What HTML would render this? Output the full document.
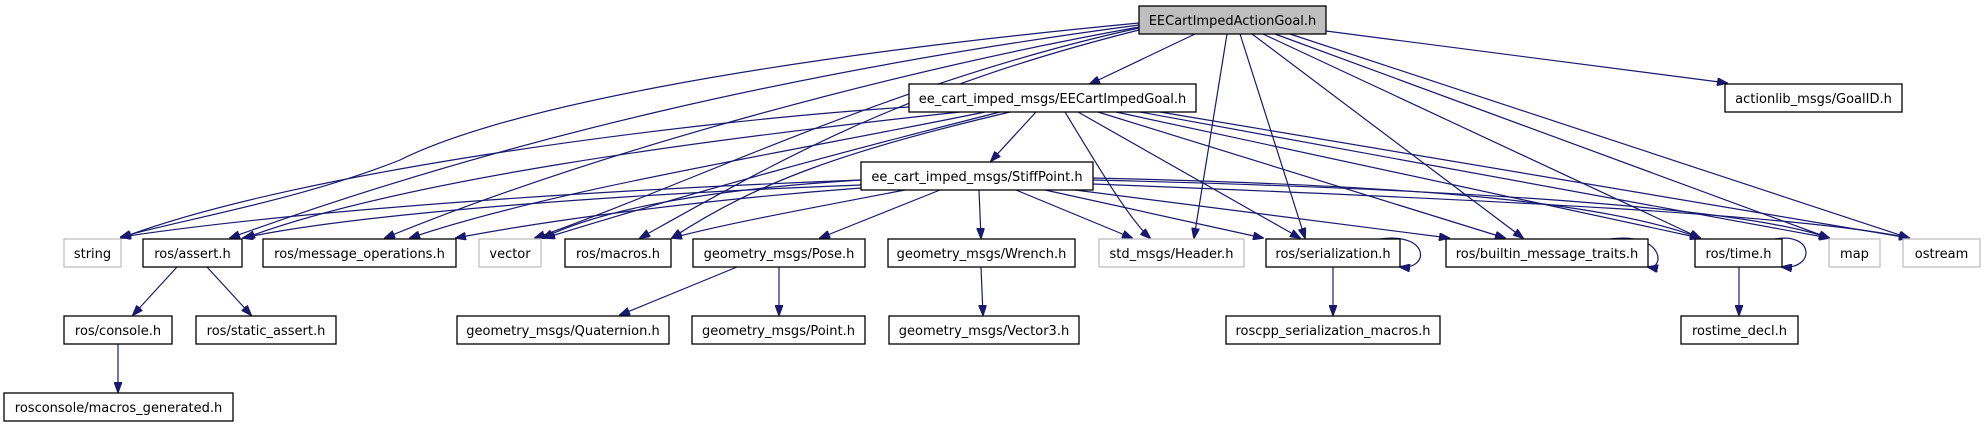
<!DOCTYPE html>
<html><head><meta charset="utf-8"><style>
html,body{margin:0;padding:0;background:#fff;}
svg{display:block;}
text{font-family:"DejaVu Sans","Liberation Sans",sans-serif;font-size:13px;fill:#000;}
.e{fill:none;stroke:#191970;stroke-width:1.2;marker-end:url(#ah);}
.n{fill:#fff;stroke:#000;stroke-width:1.3;}
.g{fill:#fff;stroke:#bfbfbf;stroke-width:1.3;}
</style></head><body>
<svg width="1984" height="427" viewBox="0 0 1984 427" xmlns="http://www.w3.org/2000/svg">
<defs><marker id="ah" markerUnits="userSpaceOnUse" markerWidth="11" markerHeight="8" refX="10" refY="4" orient="auto"><path d="M0,0 L11,4 L0,8 z" fill="#191970" stroke="#191970"/></marker></defs>

<!-- edges from A -->
<path class="e" d="M1195,34 L1090,84"/>
<path class="e" d="M1139,23 C750,60 500,110 400,160 C300,200 180,220 121,237"/>
<path class="e" d="M1139,25 C800,70 500,140 230,238"/>
<path class="e" d="M1139,27 C900,70 600,150 385,238"/>
<path class="e" d="M1139,28 C900,80 700,180 535,238"/>
<path class="e" d="M1139,30 C900,90 780,160 640,238"/>
<path class="e" d="M1227,34 L1194,238"/>
<path class="e" d="M1240,34 L1305,238"/>
<path class="e" d="M1252,34 L1523,238"/>
<path class="e" d="M1263,34 L1700,238"/>
<path class="e" d="M1275,34 L1829,238"/>
<path class="e" d="M1290,34 L1909,238"/>
<path class="e" d="M1326,31 L1727,83"/>

<!-- edges from G -->
<path class="e" d="M1036,112 L991,161"/>
<path class="e" d="M909,107 C700,120 300,170 121,238"/>
<path class="e" d="M960,112 C700,140 400,180 245,238"/>
<path class="e" d="M985,112 C800,150 550,190 410,238"/>
<path class="e" d="M1000,112 C850,150 700,190 545,238"/>
<path class="e" d="M1010,112 C850,150 760,180 672,238"/>
<path class="e" d="M1065,112 C1100,170 1130,220 1150,238"/>
<path class="e" d="M1078,112 L1300,238"/>
<path class="e" d="M1098,112 L1505,238"/>
<path class="e" d="M1116,112 L1700,238"/>
<path class="e" d="M1140,112 L1829,238"/>
<path class="e" d="M1160,112 L1909,238"/>

<!-- edges from S -->
<path class="e" d="M861,180 C600,190 300,210 121,237"/>
<path class="e" d="M861,185 C600,195 350,215 243,238"/>
<path class="e" d="M861,188 C700,200 550,220 456,238"/>
<path class="e" d="M861,180 C700,190 600,210 543,238"/>
<path class="e" d="M905,190 C800,210 720,225 672,238"/>
<path class="e" d="M940,190 L820,238"/>
<path class="e" d="M979,190 L981,238"/>
<path class="e" d="M1016,190 L1132,238"/>
<path class="e" d="M1045,190 L1263,238"/>
<path class="e" d="M1075,190 L1449,238"/>
<path class="e" d="M1093,178 C1400,185 1600,200 1700,238"/>
<path class="e" d="M1093,180 C1500,190 1750,210 1829,238"/>
<path class="e" d="M1093,184 C1500,200 1800,215 1909,238"/>

<!-- self loops -->
<path class="e" d="M1380,239 C1430,232 1430,270 1400,267"/>
<path class="e" d="M1610,239 C1665,232 1665,270 1648,267"/>
<path class="e" d="M1775,239 C1815,232 1815,270 1782,267"/>

<!-- lower edges -->
<path class="e" d="M177,267 L133,315"/>
<path class="e" d="M207,267 L251,315"/>
<path class="e" d="M118,344 L118,392"/>
<path class="e" d="M737,267 L620,315"/>
<path class="e" d="M779,267 L779,315"/>
<path class="e" d="M981,267 L983,315"/>
<path class="e" d="M1333,267 L1333,315"/>
<path class="e" d="M1739,267 L1739,315"/>

<!-- nodes -->
<rect x="1139" y="6" width="187" height="28" fill="#bfbfbf" stroke="#000" stroke-width="1.3"/>
<text x="1232.5" y="25" text-anchor="middle">EECartImpedActionGoal.h</text>

<rect class="n" x="909" y="84" width="287" height="28"/><text x="1052.5" y="103" text-anchor="middle">ee_cart_imped_msgs/EECartImpedGoal.h</text>
<rect class="n" x="1725" y="84" width="177" height="28"/><text x="1813.5" y="103" text-anchor="middle">actionlib_msgs/GoalID.h</text>

<rect class="n" x="861" y="162" width="232" height="28"/><text x="977" y="181" text-anchor="middle">ee_cart_imped_msgs/StiffPoint.h</text>

<rect class="g" x="64" y="239" width="57" height="28"/><text x="92.5" y="258" text-anchor="middle">string</text>
<rect class="n" x="143" y="239" width="99" height="28"/><text x="192.5" y="258" text-anchor="middle">ros/assert.h</text>
<rect class="n" x="263" y="239" width="193" height="28"/><text x="359.5" y="258" text-anchor="middle">ros/message_operations.h</text>
<rect class="g" x="479" y="239" width="62" height="28"/><text x="510" y="258" text-anchor="middle">vector</text>
<rect class="n" x="565" y="239" width="106" height="28"/><text x="618" y="258" text-anchor="middle">ros/macros.h</text>
<rect class="n" x="693" y="239" width="172" height="28"/><text x="779" y="258" text-anchor="middle">geometry_msgs/Pose.h</text>
<rect class="n" x="888" y="239" width="187" height="28"/><text x="981.5" y="258" text-anchor="middle">geometry_msgs/Wrench.h</text>
<rect class="g" x="1099" y="239" width="145" height="28"/><text x="1171.5" y="258" text-anchor="middle">std_msgs/Header.h</text>
<rect class="n" x="1266" y="239" width="134" height="28"/><text x="1333" y="258" text-anchor="middle">ros/serialization.h</text>
<rect class="n" x="1446" y="239" width="202" height="28"/><text x="1547" y="258" text-anchor="middle">ros/builtin_message_traits.h</text>
<rect class="n" x="1695" y="239" width="87" height="28"/><text x="1738.5" y="258" text-anchor="middle">ros/time.h</text>
<rect class="g" x="1829" y="239" width="51" height="28"/><text x="1854.5" y="258" text-anchor="middle">map</text>
<rect class="g" x="1903" y="239" width="77" height="28"/><text x="1941.5" y="258" text-anchor="middle">ostream</text>

<rect class="n" x="64" y="316" width="108" height="28"/><text x="118" y="335" text-anchor="middle">ros/console.h</text>
<rect class="n" x="196" y="316" width="140" height="28"/><text x="266" y="335" text-anchor="middle">ros/static_assert.h</text>
<rect class="n" x="457" y="316" width="212" height="28"/><text x="563" y="335" text-anchor="middle">geometry_msgs/Quaternion.h</text>
<rect class="n" x="692" y="316" width="173" height="28"/><text x="778.5" y="335" text-anchor="middle">geometry_msgs/Point.h</text>
<rect class="n" x="889" y="316" width="190" height="28"/><text x="984" y="335" text-anchor="middle">geometry_msgs/Vector3.h</text>
<rect class="n" x="1226" y="316" width="214" height="28"/><text x="1333" y="335" text-anchor="middle">roscpp_serialization_macros.h</text>
<rect class="n" x="1681" y="316" width="117" height="28"/><text x="1739.5" y="335" text-anchor="middle">rostime_decl.h</text>

<rect class="n" x="4" y="393" width="229" height="28"/><text x="118.5" y="412" text-anchor="middle">rosconsole/macros_generated.h</text>
</svg>
</body></html>
